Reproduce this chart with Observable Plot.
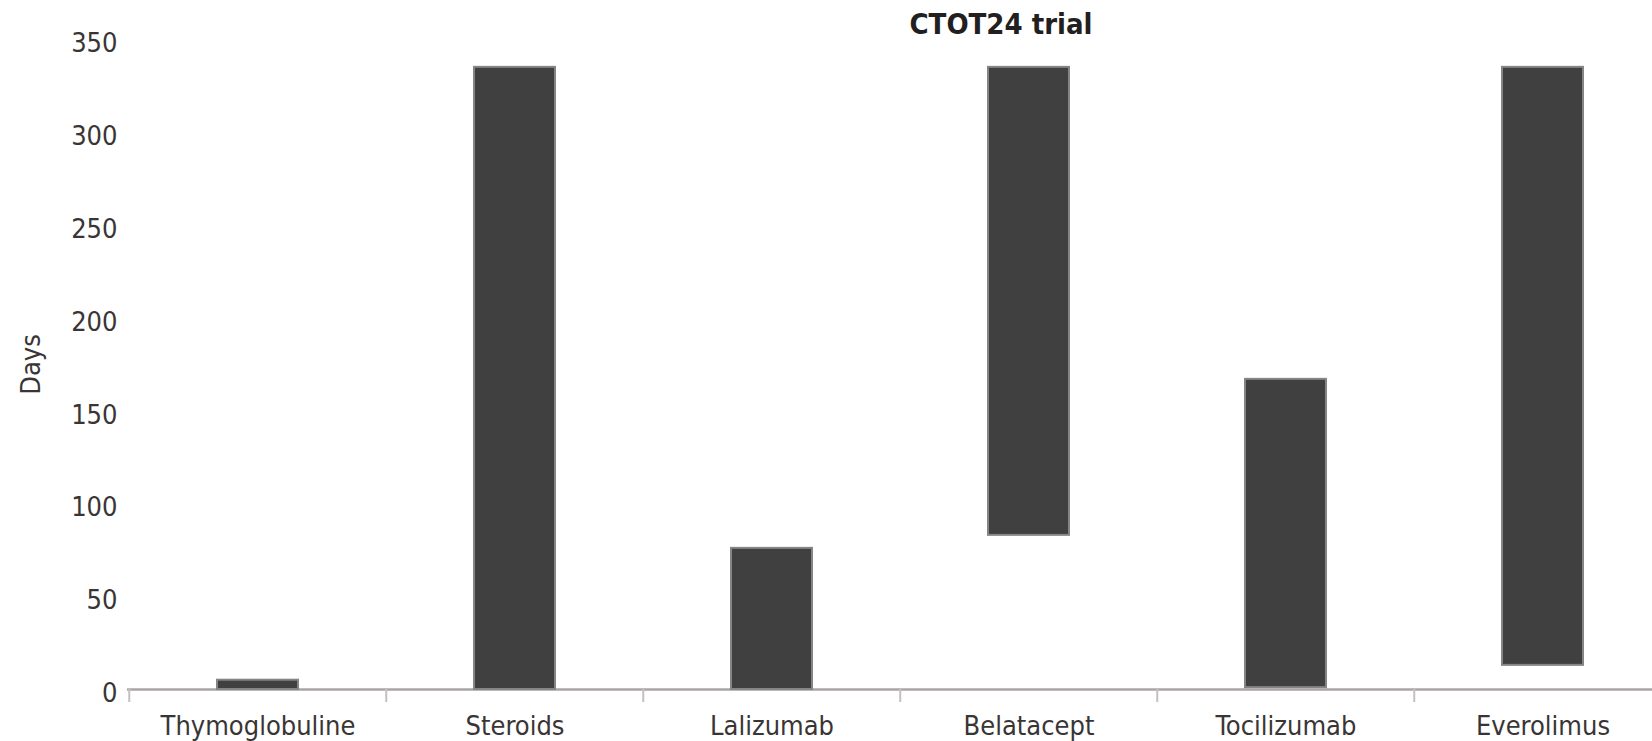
<!DOCTYPE html>
<html>
<head>
<meta charset="utf-8">
<script src="https://cdn.jsdelivr.net/npm/d3@7"></script>
<script src="https://cdn.jsdelivr.net/npm/@observablehq/plot@0.6"></script>
<style>
  html, body { margin: 0; padding: 0; background: #fff; }
  #wrap { position: relative; width: 1652px; height: 741px; overflow: hidden; background: #fff; }
  #title {
    position: absolute; top: 10px; left: 1001px; transform: translateX(-50%); z-index: 2;
    font-family: "DejaVu Sans Condensed", "DejaVu Sans", sans-serif; font-stretch: condensed;
    font-weight: bold; font-size: 29px; line-height: 1; color: #231f20; white-space: nowrap;
  }
</style>
</head>
<body>
<div id="wrap"><div id="title">CTOT24 trial</div></div>
<script>
const drugs = ["Thymoglobuline", "Steroids", "Lalizumab", "Belatacept", "Tocilizumab", "Everolimus"];
const startDay = [0, 0, 0, 83, 1, 13];
const endDay = [5, 335, 76, 335, 167, 335];
const yTicks = [0, 50, 100, 150, 200, 250, 300, 350];

const data = drugs.map((d, i) => ({ drug: d, start: startDay[i], end: endDay[i] }));

const W = 1652, H = 741;
const mL = 127, mR = -20, mT = 39, mB = 52;
const step = (W - mL - mR) / drugs.length;
const pad = 0.685;

const chart = Plot.plot({
  width: W,
  height: H,
  marginLeft: mL,
  marginRight: mR,
  marginTop: mT,
  marginBottom: mB,
  style: {
    fontFamily: "'DejaVu Sans Condensed', 'DejaVu Sans', sans-serif",
    fontStretch: "condensed",
    fontSize: "27px",
    color: "#3a3535",
    background: "transparent"
  },
  x: { domain: drugs, paddingInner: pad, paddingOuter: pad / 2, label: null, axis: null },
  y: { domain: [0, 350], axis: null },
  marks: [
    Plot.axisX({ tickSize: 0, tickPadding: 26, label: null }),
    Plot.axisY(yTicks, { tickSize: 0, tickPadding: 10, dy: 4, label: null }),
    Plot.axisY({ ticks: [], label: "Days", labelAnchor: "center", labelOffset: 107, labelArrow: "none", tickSize: 0 }),
    Plot.ruleY([0], { stroke: "#aaa5a5", strokeWidth: 2.5 }),
    Plot.ruleX(drugs, { x: d => d, y1: 0, y2: 0, dx: -step / 2, insetBottom: -13, stroke: "#c4c0c0", strokeWidth: 2 }),
    Plot.ruleX(drugs.slice(-1), { x: d => d, y1: 0, y2: 0, dx: step / 2, insetBottom: -13, stroke: "#c4c0c0", strokeWidth: 2 }),
    Plot.barY(data, { x: "drug", y1: "start", y2: "end", fill: "#404040", stroke: "#858585", strokeWidth: 2 })
  ]
});

chart.style.position = "absolute";
chart.style.left = "0";
chart.style.top = "0";
chart.style.zIndex = "1";
document.getElementById("wrap").appendChild(chart);
</script>
</body>
</html>
